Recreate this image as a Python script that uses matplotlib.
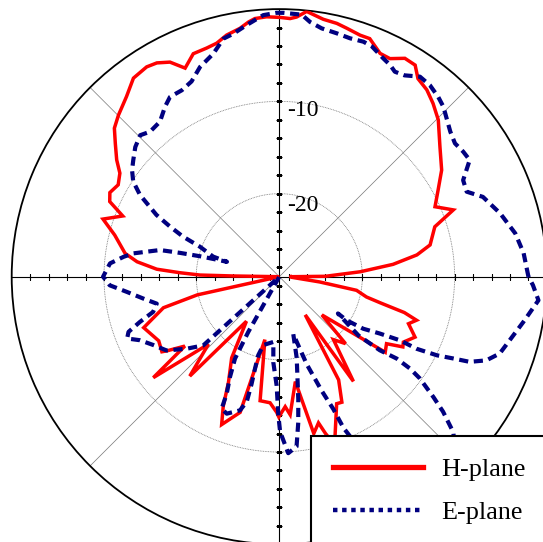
import numpy as np
import matplotlib
matplotlib.use('Agg')
import matplotlib.pyplot as plt
from matplotlib.lines import Line2D
from matplotlib.transforms import ScaledTranslation

# ---- data (angle in degrees, level in dB) ----
h_theta = [0, 0.5, 3.5, 6.2, 9.0, 11.9, 17.8, 21.0, 24.2, 28.6, 33.3, 39.0, 44.6, 48.4,
           51.7, 55.0, 57.3, 60.1, 63.1, 65.7, 69.2, 71.5, 74.8, 77.2, 80.3, 84.1, 86.2,
           87.6, 89.8, 92.8, 95.4, 96.9, 99.0, 102.3, 105.0, 107.6, 111.1, 114.3, 117.0,
           119.8, 122.3, 126.3, 130.3, 134.9, 138.0, 140.9, 144.3, 147.0, 150.3, 153.6,
           156.1, 158.8, 161.9, 165.8, 171.4, 174.0, 176.5, 177.7, 178.8, 179.1, 180.0,
           192.5, 195.0, 200.6, 208.0, 212.6, 213.4, 216.3, 218.7, 223.6, 228.0, 233.6,
           239.6, 244.3, 246.6, 248.7, 253.9, 257.1, 261.2, 265.8, 268.9, 269.8, 272.6,
           274.5, 278.7, 282.4, 285.0, 286.4, 288.0, 289.4, 294.3, 296.5, 299.9, 304.2,
           305.3, 310.7, 314.7, 318.1, 324.5, 328.0, 330.4, 332.2, 336.0, 340.0, 342.4,
           344.0, 345.5, 346.9, 350.0, 352.6, 357.0, 360.0]
h_db = [-27.7, -24.0, -20.2, -16.6, -13.9, -12.3, -11.3, -8.8, -10.5, -9.4, -7.95, -6.6,
        -4.8, -3.9, -3.2, -2.8, -1.75, -1.7, -2.5, -2.45, -1.4, -1.4, -1.1, -0.85, -0.7,
        -0.1, -0.8, -1.0, -0.9, -0.8, -0.9, -1.2, -1.75, -2.2, -2.8, -3.0, -3.1, -4.2,
        -2.9, -2.3, -2.1, -2.3, -3.4, -4.3, -4.95, -6.1, -7.3, -8.4, -8.9, -8.5, -8.9,
        -10.8, -8.9, -10.6, -12.1, -13.5, -15.7, -18.2, -20.4, -24.0, -29.0,
        -19.9, -16.0, -13.3, -14.2, -13.9, -14.4, -16.3, -11.5, -18.4, -14.5, -23.0,
        -18.8, -16.3, -13.7, -11.8, -13.7, -22.0, -15.4, -15.3, -14.3, -13.8, -14.9,
        -14.0, -17.5, -11.6, -12.6, -11.3, -10.0, -10.8, -13.9, -13.8, -16.1, -24.0,
        -15.1, -20.0, -18.8, -22.8, -14.9, -15.3, -13.6, -13.8, -12.9, -14.1, -13.4,
        -14.9, -17.7, -19.3, -20.5, -24.6, -27.6, -27.7]

e_theta = [0, 5.5, 10.4, 16.0, 21.4, 24.4, 27.7, 31.5, 34.2, 37.2, 40.3, 46.0, 48.5, 51.8,
           54.9, 58.1, 60.6, 62.4, 64.5, 68.1, 70.3, 73.5, 76.7, 80.3, 83.1, 85.1, 89.1,
           90.6, 93.5, 97.4, 100.7, 103.2, 106.5, 110.7, 114.2, 117.6, 121.3, 123.9, 127.6,
           131.7, 134.5, 138.0, 141.4, 144.1, 146.9, 149.6, 151.0, 153.3, 155.4, 157.4,
           159.3, 163.1, 164.1, 165.5, 166.5, 167.4, 170.9, 172.7, 175.5, 180.0, 182.9,
           185.7, 189.2, 192.4, 195.6, 198.0, 200.1, 202.1, 204.5, 208.6, 213.2, 217.9,
           222.1, 230.0, 240.7, 241.6, 243.8, 245.8, 246.4, 249.0, 251.2, 253.6, 255.4,
           255.5, 255.2, 255.0, 256.9, 264.8, 266.0, 268.6, 269.6, 270.3, 272.9, 275.8,
           277.4, 278.8, 282.1, 283.7, 287.4, 290.4, 292.2, 293.0, 295.0, 298.0, 302.0,
           307.0, 312.0, 316.0, 318.2, 320.5, 322.0, 324.1, 324.9, 325.1, 323.8, 323.4,
           327.9, 327.1, 328.2, 330.5, 332.2, 332.3, 333.5, 334.8, 335.9, 338.0, 340.8,
           344.6, 349.5, 354.8, 358.1, 360.0]
e_db = [-2.0, -2.4, -3.0, -4.1, -5.3, -6.7, -6.5, -4.8, -4.9, -5.1, -4.7, -3.4, -3.0, -2.6,
        -2.5, -3.3, -3.5, -3.1, -2.8, -2.1, -1.95, -2.05, -1.9, -1.7, -1.2, -0.5, -0.4,
        -0.4, -0.6, -1.5, -2.2, -2.5, -3.8, -4.7, -5.8, -6.2, -6.2, -6.8, -7.8, -7.95,
        -7.5, -8.0, -8.75, -9.3, -10.1, -11.5, -12.6, -14.1, -16.0, -17.7, -19.8, -21.5,
        -23.1, -20.2, -17.95, -15.75, -13.0, -12.0, -10.6, -9.9, -10.6, -12.4, -14.1,
        -15.4, -14.8, -13.1, -11.6, -11.2, -12.4, -13.5, -14.4, -16.3, -17.9, -29.0,
        -22.1, -18.9, -16.9, -15.1, -13.4, -13.1, -13.5, -13.9, -15.0, -17.0, -18.7,
        -20.2, -21.4, -21.9, -19.7, -17.2, -14.0, -12.2, -9.85, -10.5, -13.05, -15.55,
        -20.0, -22.6, -19.05, -15.8, -13.5, -11.2, -8.5, -6.0, -4.5, -3.5, -2.8, -2.6,
        -3.7, -6.0, -7.8, -10.2, -11.7, -13.5, -15.5, -18.3, -21.5, -20.3, -18.3, -16.5,
        -14.2, -12.2, -9.9, -8.2, -6.4, -4.8, -3.7, -3.1, -2.1, -0.8, -1.5, -2.0]

r_min, r_max = -29.0, 0.0
ring_values = [-10, -20]
ring_labels = ['-10', '-20']
axis_tick_values = list(range(-28, 0, 2))
legend_labels = ['H-plane', 'E-plane']

# ---- figure ----
W, H = 543, 542
fig = plt.figure(figsize=(W / 100, H / 100), dpi=100)
cx, cy, R = 279.3, 276.7, 267.6
ax = fig.add_axes([(cx - R) / W, (H - cy - R) / H, 2 * R / W, 2 * R / H],
                  projection='polar')
ax.set_ylim(r_min, r_max)
ax.set_xticks(np.deg2rad(np.arange(0, 360, 5)))
ax.set_xticklabels([])
ax.set_yticks([])
ax.grid(False)
ax.tick_params(axis='x', direction='in', length=5, width=0.8, color='black')
ax.spines['polar'].set_linewidth(1.3)
ax.spines['polar'].set_color('black')

# gridlines: diagonals and rings
for a in [45, 135, 225, 315]:
    ax.plot([np.deg2rad(a)] * 2, [r_min, r_max], color='#777777', lw=0.5, zorder=1)
circ = np.linspace(0, 2 * np.pi, 721)
for v in ring_values:
    ax.plot(circ, np.full_like(circ, v), color='#777777', lw=0.6,
            linestyle=(0, (1, 1)), zorder=1)

# axes through origin
for a in [0, 90, 180, 270]:
    ax.plot([np.deg2rad(a)] * 2, [r_min, r_max], color='black', lw=0.8, zorder=1.5)
    mk = '|' if a in (0, 180) else '_'
    ax.plot([np.deg2rad(a)] * len(axis_tick_values), axis_tick_values, linestyle='none',
            marker=mk, markersize=4, markeredgewidth=0.8, color='black', zorder=1.5)

# curves
ax.plot(np.deg2rad(h_theta), h_db, color='#ff0000', lw=2.5, zorder=3,
        solid_joinstyle='miter')
ax.plot(np.deg2rad(e_theta), e_db, color='#000080', lw=3.0, zorder=4,
        linestyle=(0, (2.2, 1.35)))

# ring labels
for v, lab in zip(ring_values, ring_labels):
    dy = 15 if v == -10 else 17.7
    off = ScaledTranslation(7.4 / 100, -dy / 100, fig.dpi_scale_trans)
    ax.text(np.pi / 2, v, lab, transform=ax.transData + off, ha='left', va='baseline',
            fontsize=17, family='Liberation Serif', zorder=5)

# legend
handles = [Line2D([], [], color='#ff0000', lw=3.8),
           Line2D([], [], color='#000080', lw=3.2, linestyle=(0, (1.0, 1.05)))]
leg = ax.legend(handles, legend_labels, loc='upper left',
                bbox_to_anchor=(311 / W, 1 - 436 / H), bbox_transform=fig.transFigure,
                borderaxespad=0, frameon=True, fancybox=False, edgecolor='black',
                framealpha=1, prop={'family': 'Liberation Serif', 'size': 18.8},
                handlelength=3.45, handletextpad=0.7, borderpad=0.85, labelspacing=0.75)
leg.get_frame().set_linewidth(1.5)

fig.savefig('out.png', dpi=100)
